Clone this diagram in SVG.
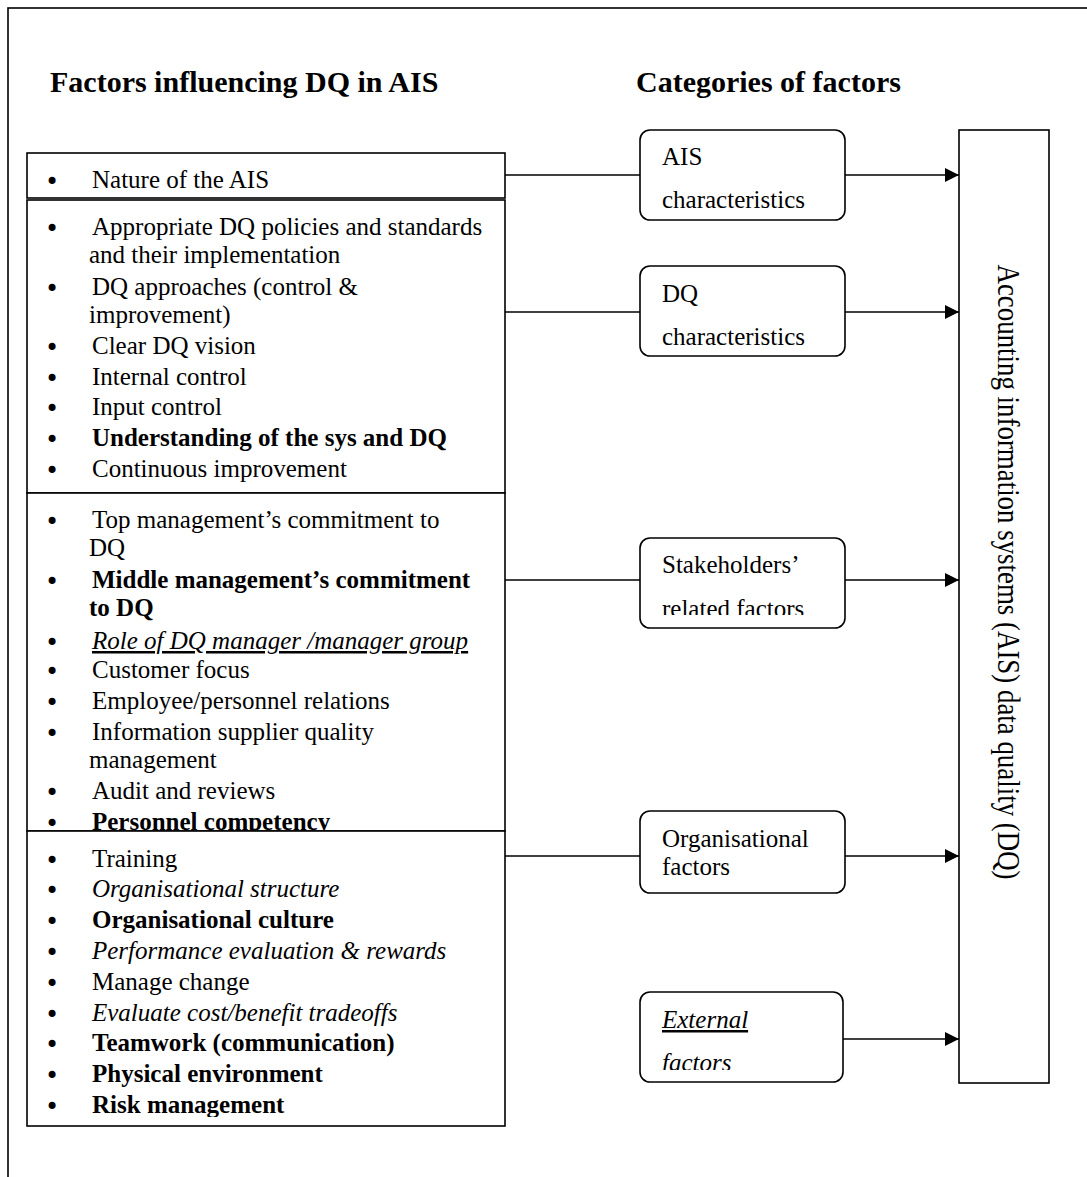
<svg xmlns="http://www.w3.org/2000/svg" width="1087" height="1177" viewBox="0 0 1087 1177">
<style>
text{font-family:"Liberation Serif","Times New Roman",serif;font-size:25px;fill:#000}
.t{font-size:30px;font-weight:bold}
.b{font-weight:bold}
.i{font-style:italic}
.u{text-decoration:underline}
.bu{font-family:"DejaVu Sans",sans-serif;font-size:24px}
.box{fill:#fff;stroke:#000;stroke-width:1.6}
.cat{fill:#fff;stroke:#000;stroke-width:1.6}
.ln{stroke:#000;stroke-width:1.6;fill:none}
</style>
<defs>
<marker id="ah" viewBox="0 0 10 10" refX="10" refY="5" markerWidth="14" markerHeight="14" markerUnits="userSpaceOnUse" orient="auto"><path d="M0,0 L10,5 L0,10 z" fill="#000"/></marker>
<clipPath id="c1"><rect x="27" y="153" width="478" height="45"/></clipPath>
<clipPath id="c2"><rect x="27" y="200" width="478" height="293"/></clipPath>
<clipPath id="c3"><rect x="27" y="493" width="478" height="337"/></clipPath>
<clipPath id="c4"><rect x="27" y="832" width="478" height="285"/></clipPath>
<clipPath id="cs"><rect x="640" y="538" width="205" height="77"/></clipPath>
<clipPath id="ce"><rect x="640" y="992" width="205" height="78"/></clipPath>
</defs>
<rect x="8" y="8" width="1100" height="1200" fill="#fff" stroke="#000" stroke-width="1.6"/>
<text class="t" x="50" y="92">Factors influencing DQ in AIS</text>
<text class="t" x="636" y="92">Categories of factors</text>

<g id="connectors">
<line class="ln" x1="505" y1="175" x2="640" y2="175"/>
<line class="ln" x1="845" y1="175" x2="959" y2="175" marker-end="url(#ah)"/>
<line class="ln" x1="505" y1="312" x2="640" y2="312"/>
<line class="ln" x1="845" y1="312" x2="959" y2="312" marker-end="url(#ah)"/>
<line class="ln" x1="505" y1="580" x2="640" y2="580"/>
<line class="ln" x1="845" y1="580" x2="959" y2="580" marker-end="url(#ah)"/>
<line class="ln" x1="505" y1="856" x2="640" y2="856"/>
<line class="ln" x1="845" y1="856" x2="959" y2="856" marker-end="url(#ah)"/>
<line class="ln" x1="843" y1="1039" x2="959" y2="1039" marker-end="url(#ah)"/>
</g>

<g id="box1">
<rect class="box" x="27" y="153" width="478" height="45"/>
<g clip-path="url(#c1)">
<text class="bu" x="45" y="190">•</text><text x="92" y="188">Nature of the AIS</text>
</g>
</g>

<g id="box2">
<rect class="box" x="27" y="200" width="478" height="293"/>
<g clip-path="url(#c2)">
<text class="bu" x="45" y="237">•</text><text x="92" y="235">Appropriate DQ policies and standards</text>
<text x="89" y="263">and their implementation</text>
<text class="bu" x="45" y="297">•</text><text x="92" y="295">DQ approaches (control &amp;</text>
<text x="89" y="323">improvement)</text>
<text class="bu" x="45" y="356">•</text><text x="92" y="354">Clear DQ vision</text>
<text class="bu" x="45" y="387">•</text><text x="92" y="385">Internal control</text>
<text class="bu" x="45" y="417">•</text><text x="92" y="415">Input control</text>
<text class="bu" x="45" y="448">•</text><text class="b" x="92" y="446">Understanding of the sys and DQ</text>
<text class="bu" x="45" y="479">•</text><text x="92" y="477">Continuous improvement</text>
</g>
</g>

<g id="box3">
<rect class="box" x="27" y="493" width="478" height="338"/>
<g clip-path="url(#c3)">
<text class="bu" x="45" y="530">•</text><text x="92" y="528">Top management’s commitment to</text>
<text x="89" y="556">DQ</text>
<text class="bu" x="45" y="590">•</text><text class="b" x="92" y="588">Middle management’s commitment</text>
<text class="b" x="89" y="616">to DQ</text>
<text class="bu" x="45" y="651">•</text><text class="i u" x="92" y="649">Role of DQ manager /manager group</text>
<text class="bu" x="45" y="680">•</text><text x="92" y="678">Customer focus</text>
<text class="bu" x="45" y="711">•</text><text x="92" y="709">Employee/personnel relations</text>
<text class="bu" x="45" y="742">•</text><text x="92" y="740">Information supplier quality</text>
<text x="89" y="768">management</text>
<text class="bu" x="45" y="801">•</text><text x="92" y="799">Audit and reviews</text>
<text class="bu" x="45" y="832">•</text><text class="b" x="92" y="830">Personnel competency</text>
</g>
</g>

<g id="box4">
<rect class="box" x="27" y="831" width="478" height="295"/>
<g clip-path="url(#c4)">
<text class="bu" x="45" y="869">•</text><text x="92" y="867">Training</text>
<text class="bu" x="45" y="899">•</text><text class="i" x="92" y="897">Organisational structure</text>
<text class="bu" x="45" y="930">•</text><text class="b" x="92" y="928">Organisational culture</text>
<text class="bu" x="45" y="961">•</text><text class="i" x="92" y="959">Performance evaluation &amp; rewards</text>
<text class="bu" x="45" y="992">•</text><text x="92" y="990">Manage change</text>
<text class="bu" x="45" y="1023">•</text><text class="i" x="92" y="1021">Evaluate cost/benefit tradeoffs</text>
<text class="bu" x="45" y="1053">•</text><text class="b" x="92" y="1051">Teamwork (communication)</text>
<text class="bu" x="45" y="1084">•</text><text class="b" x="92" y="1082">Physical environment</text>
<text class="bu" x="45" y="1115">•</text><text class="b" x="92" y="1113">Risk management</text>
</g>
</g>

<g id="cat-ais">
<rect class="cat" x="640" y="130" width="205" height="90" rx="10"/>
<text x="662" y="165">AIS</text>
<text x="662" y="208">characteristics</text>
</g>
<g id="cat-dq">
<rect class="cat" x="640" y="266" width="205" height="90" rx="10"/>
<text x="662" y="302">DQ</text>
<text x="662" y="345">characteristics</text>
</g>
<g id="cat-stake">
<rect class="cat" x="640" y="538" width="205" height="90" rx="10"/>
<g clip-path="url(#cs)">
<text x="662" y="573">Stakeholders’</text>
<text x="662" y="617">related factors</text>
</g>
</g>
<g id="cat-org">
<rect class="cat" x="640" y="811" width="205" height="82" rx="10"/>
<text x="662" y="847">Organisational</text>
<text x="662" y="875">factors</text>
</g>
<g id="cat-ext">
<rect class="cat" x="640" y="992" width="203" height="90" rx="10"/>
<g clip-path="url(#ce)">
<text class="i u" x="662" y="1028">External</text>
<text class="i" x="662" y="1071">factors</text>
</g>
</g>

<g id="ais-dq">
<rect class="box" x="959" y="130" width="90" height="953"/>
<text transform="translate(998,572) rotate(90)" text-anchor="middle" textLength="615" lengthAdjust="spacingAndGlyphs" style="font-size:32px">Accounting information systems (AIS) data quality (DQ)</text>
</g>
</svg>
